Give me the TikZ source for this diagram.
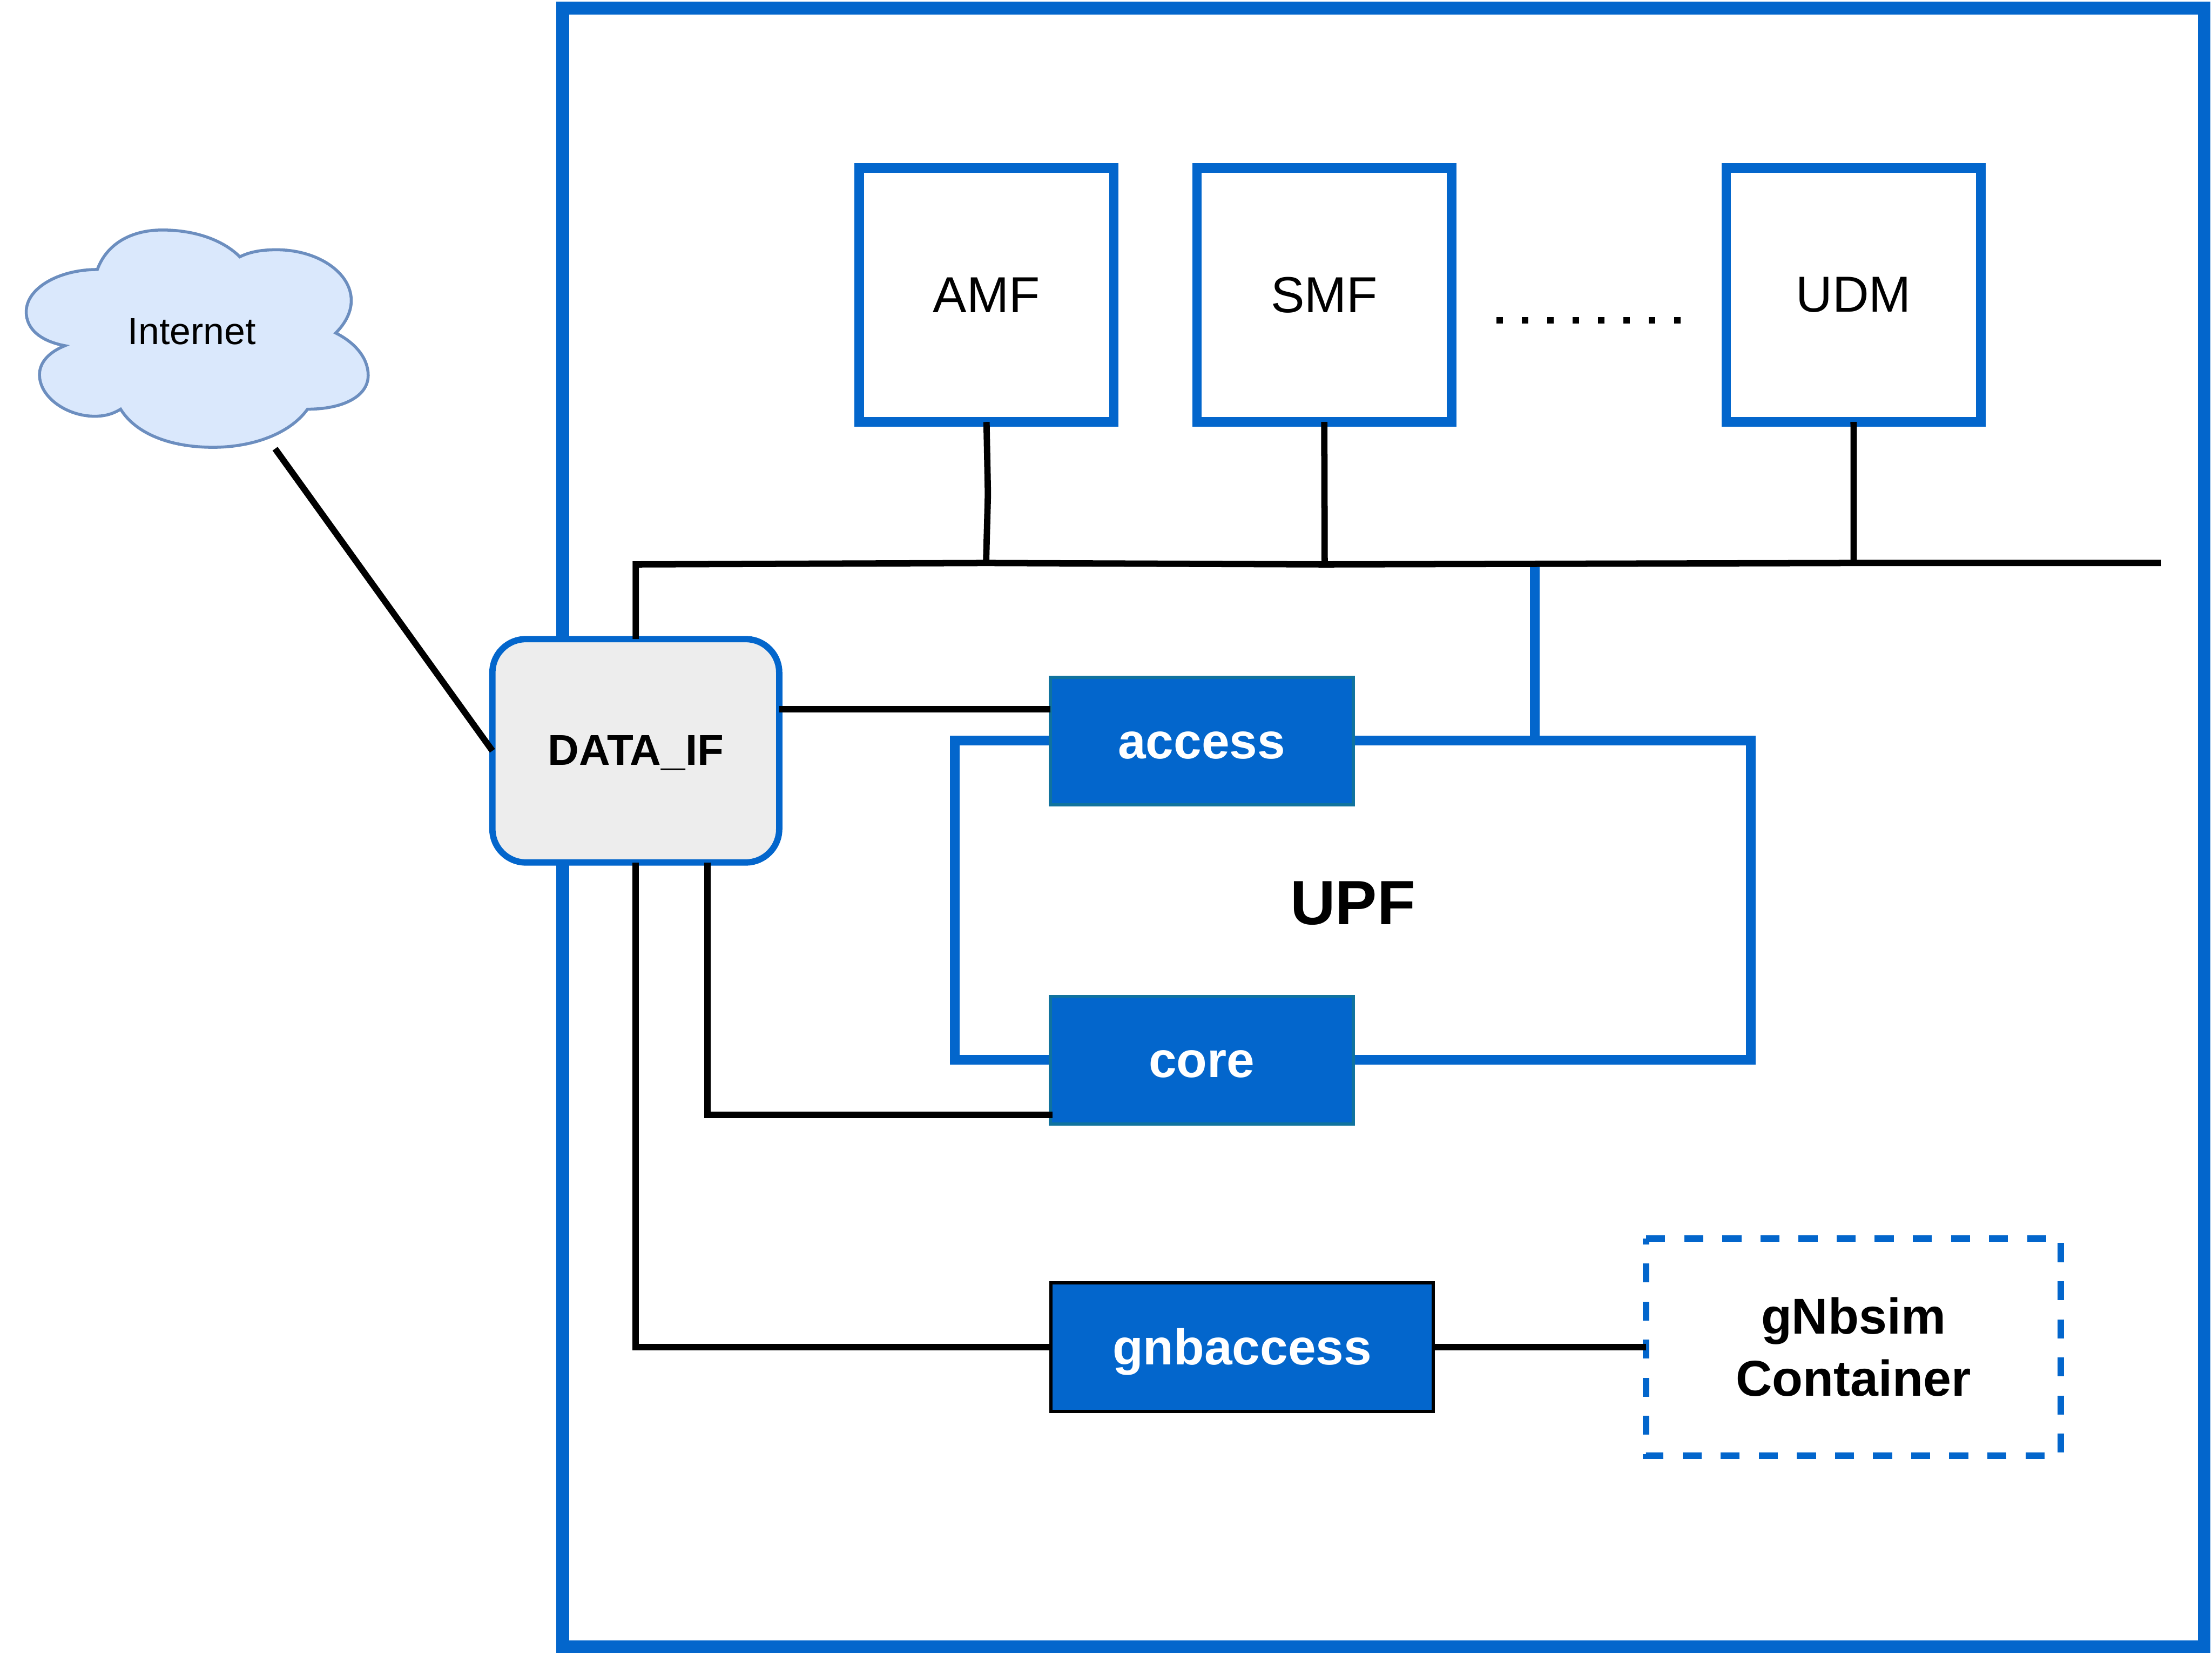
\documentclass[tikz,border=0pt]{standalone}
\usepackage{fontspec}
\setmainfont{Liberation Sans}
\usepackage{xcolor}
\usepackage{tikz}
\usetikzlibrary{positioning}
\definecolor{upfblue}{HTML}{0366CC}
\definecolor{boxedge}{HTML}{10739E}
\definecolor{cloudfill}{HTML}{DAE8FC}
\definecolor{cloudedge}{HTML}{6C8EBF}
\begin{document}
\begin{tikzpicture}[
        x=0.01cm, y=-0.01cm,
        every node/.style={outer sep=0pt, inner sep=0pt},
        nfbox/.style={rectangle, draw=upfblue, line width=1.92pt, fill=white, minimum width=1.805cm, minimum height=1.80cm, font=\fontsize{10.2pt}{12pt}\selectfont},
        portbox/.style={rectangle, draw=boxedge, line width=0.64pt, fill=upfblue, text=white, minimum width=2.146cm, minimum height=0.904cm, text height=0.246cm, text depth=0pt, font=\bfseries\fontsize{10.1pt}{12pt}\selectfont},
        link/.style={line width=1.28pt, black},
        bluelink/.style={line width=1.92pt, upfblue}
    ]
        \useasboundingbox (0,0) rectangle (1568,1172.6);
        \draw[upfblue, line width=2.56pt] (398.8,5.7) rectangle (1562.4,1167);

        \node[nfbox] (amf) at (699.3,209) {AMF};
        \node[nfbox, right=0.588cm of amf] (smf) {SMF};
        \node[nfbox, right=1.945cm of smf] (udm) {UDM};
        \coordinate (dotstart) at (1060.8,227);
        \coordinate (dotend) at (1192,227);

        \coordinate (busleft) at (450.7,400);
        \coordinate (busamf) at (699,399);
        \coordinate (amfkink) at (700.3,350);
        \coordinate (bussmf) at (939,400);
        \coordinate (busudm) at (1314,399);
        \coordinate (busright) at (1532,399);
        \coordinate (busupf) at (1088,400);

        \node[rectangle, draw=upfblue, line width=1.92pt, minimum width=5.64cm, minimum height=2.26cm, text height=0.34cm, text depth=0pt, font=\bfseries\fontsize{12.6pt}{15pt}\selectfont] (upf) at (959,638) {UPF};
        \node[portbox] (access) at (851.8,525.3) {access};
        \node[portbox, below=1.355cm of access] (core) {core};
        \node[portbox, draw=black, minimum width=2.71cm, minimum height=0.91cm] (gnbaccess) at (880.5,954.7) {gnbaccess};

        \node[minimum width=2.937cm, minimum height=1.537cm, align=center, font=\bfseries\fontsize{10.15pt}{12.5pt}\selectfont] (gnbsim) at (1313.8,954.7) {gNbsim\\Container};
        \draw[upfblue, line width=1.28pt, dash pattern=on 3.84pt off 3.84pt] (gnbsim.north west) -- (gnbsim.north east) -- (gnbsim.south east) -- (gnbsim.south west) -- cycle;

        \draw[bluelink] (busupf) -- (busupf |- upf.north);

        \draw[cloudedge, fill=cloudfill, line width=0.6pt] (69,191) .. controls (76,172) and (94,163) .. (115,163)
            .. controls (138,163) and (158,170) .. (170,182)
            .. controls (178,178) and (187,177) .. (196,177)
            .. controls (225,177) and (249,193) .. (249,213)
            .. controls (249,222) and (244,230) .. (238,236)
            .. controls (252,243) and (261,254) .. (261,266)
            .. controls (261,281) and (243,290) .. (218,290)
            .. controls (205,308) and (178,317) .. (151,317)
            .. controls (120,317) and (96,307) .. (85.5,290)
            .. controls (79,294) and (73,295) .. (67,295)
            .. controls (48,295) and (28,282) .. (28,265.5)
            .. controls (28,256) and (36,249) .. (46,245)
            .. controls (30,242) and (18.6,234) .. (18.6,221)
            .. controls (18.6,204) and (42,191) .. (69,191) -- cycle;
        \node[font=\fontsize{7.6pt}{9pt}\selectfont] (internet) at (136,235) {Internet};
        \coordinate (cloudend) at (195,318);

        \node[rectangle, rounded corners=0.237cm, draw=upfblue, line width=1.28pt, fill=black!7, minimum width=2.032cm, minimum height=1.582cm, text height=0.204cm, text depth=0pt, font=\bfseries\fontsize{8.7pt}{10pt}\selectfont] (dataif) at (450.7,532.1) {DATA\_IF};

        \coordinate (dataport) at (dataif.east |- 0,502.7);
        \coordinate (coreport) at (501.6,611.2);
        \coordinate (corein) at (746,790);

        \draw[link] (cloudend) -- (dataif.west);
        \draw[link] (amf.south) -- (amfkink) -- (busamf);
        \draw[link] (smf.south) -- (bussmf);
        \draw[link] (udm.south) -- (busudm);
        \draw[link] (dataif.north) -- (busleft) -- (busamf) -- (bussmf) -- (busudm) -- (busright);
        \draw[link] (dataport) -- (dataport -| access.west);
        \draw[link] (coreport) -- (coreport |- corein) -- (corein);
        \draw[link] (dataif.south) -- (dataif.south |- gnbaccess.west) -- (gnbaccess.west);
        \draw[link] (gnbaccess.east) -- (gnbsim.west);
        \draw[link, dash pattern=on 1.28pt off 3.84pt] (dotstart) -- (dotend);
    \end{tikzpicture}
\end{document}
